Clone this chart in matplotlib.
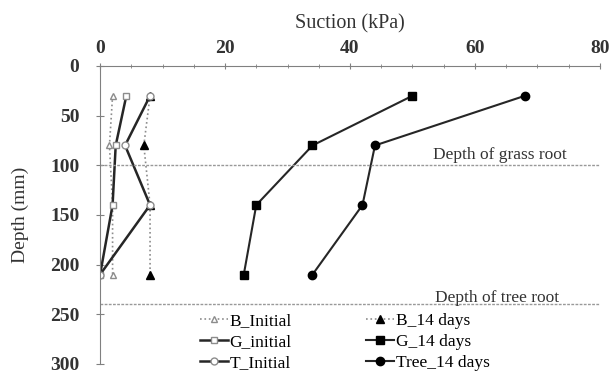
import numpy as np
import matplotlib.pyplot as plt
from matplotlib.ticker import MultipleLocator

plt.rcParams['font.family'] = ['Liberation Serif', 'DejaVu Serif']

# depth of measurement points (mm)
depth = [30, 80, 140, 210]

# suction (kPa)
b_initial = [2, 1.5, 2, 2]
g_initial = [4.2, 2.5, 2, 0]
t_initial = [8, 4, 8, 0]
b_14 = [8, 7, 8, 8]
g_14 = [50, 34, 25, 23]
tree_14 = [68, 44, 42, 34]

grass_root = 100
tree_root = 240

fig = plt.figure(figsize=(6.14, 3.76), dpi=100)
ax = fig.add_axes([0.163, 0.032, 0.814, 0.7925])

dark = '#262626'
grey = '#8c8c8c'

ax.plot(b_initial, depth, ls=':', color=grey, lw=1.2, marker='^', ms=5,
        mfc='white', mec=grey, label='B_Initial')
ax.plot(b_14, depth, ls=':', color=grey, lw=1.2, marker='^', ms=6,
        mfc='black', mec='black', label='B_14 days')
ax.plot(g_initial, depth, ls='-', color=dark, lw=1.8, marker='s', ms=5,
        mfc='white', mec=grey, label='G_initial')
ax.plot(g_14, depth, ls='-', color=dark, lw=1.5, marker='s', ms=6,
        mfc='black', mec='black', label='G_14 days')
ax.plot(t_initial, depth, ls='-', color=dark, lw=1.8, marker='o', ms=5,
        mfc='white', mec=grey, label='T_Initial')
ax.plot(tree_14, depth, ls='-', color=dark, lw=1.5, marker='o', ms=6,
        mfc='black', mec='black', label='Tree_14 days')

ax.axhline(grass_root, color='#999999', ls=(0, (2, 1)), lw=1.0)
ax.axhline(tree_root, color='#999999', ls=(0, (2, 1)), lw=1.0)
ax.text(64, grass_root - 2, 'Depth of grass root', ha='center', va='bottom',
        fontsize=12.5, color='#333333')
ax.text(63.5, tree_root + 2, 'Depth of tree root', ha='center', va='bottom',
        fontsize=12.5, color='#333333')

ax.set_xlim(0, 80)
ax.set_ylim(300, 0)
ax.xaxis.set_major_locator(MultipleLocator(20))
ax.xaxis.set_minor_locator(MultipleLocator(5))
ax.yaxis.set_major_locator(MultipleLocator(50))
ax.xaxis.tick_top()
ax.xaxis.set_label_position('top')
for s in ['right', 'bottom']:
    ax.spines[s].set_visible(False)
for s in ['left', 'top']:
    ax.spines[s].set_color('#808080')
ax.tick_params(axis='both', which='both', direction='inout', color='#808080')
ax.tick_params(axis='x', which='major', length=5, pad=4)
ax.tick_params(axis='x', which='minor', length=3)
ax.tick_params(axis='y', length=6, pad=12)
for lab in ax.get_xticklabels() + ax.get_yticklabels():
    lab.set_fontsize(14)
    lab.set_fontweight('bold')
    lab.set_color('#333333')

ax.set_xlabel('Suction (kPa)', fontsize=14.5, labelpad=8, color='#333333')
ax.set_ylabel('Depth (mm)', fontsize=14, labelpad=15, color='#333333')

# legend order: left column initial, right column 14 days
h, l = ax.get_legend_handles_labels()
order = [0, 2, 4, 1, 3, 5]
ax.legend([h[i] for i in order], [l[i] for i in order], ncol=2,
          loc='upper left', bbox_to_anchor=(0.2, 0.17), frameon=False,
          fontsize=12.5, handlelength=1.6, handletextpad=0.1,
          columnspacing=4.3, labelspacing=0.28, borderpad=0,
          borderaxespad=0)

fig.savefig('out.png', dpi=100)
